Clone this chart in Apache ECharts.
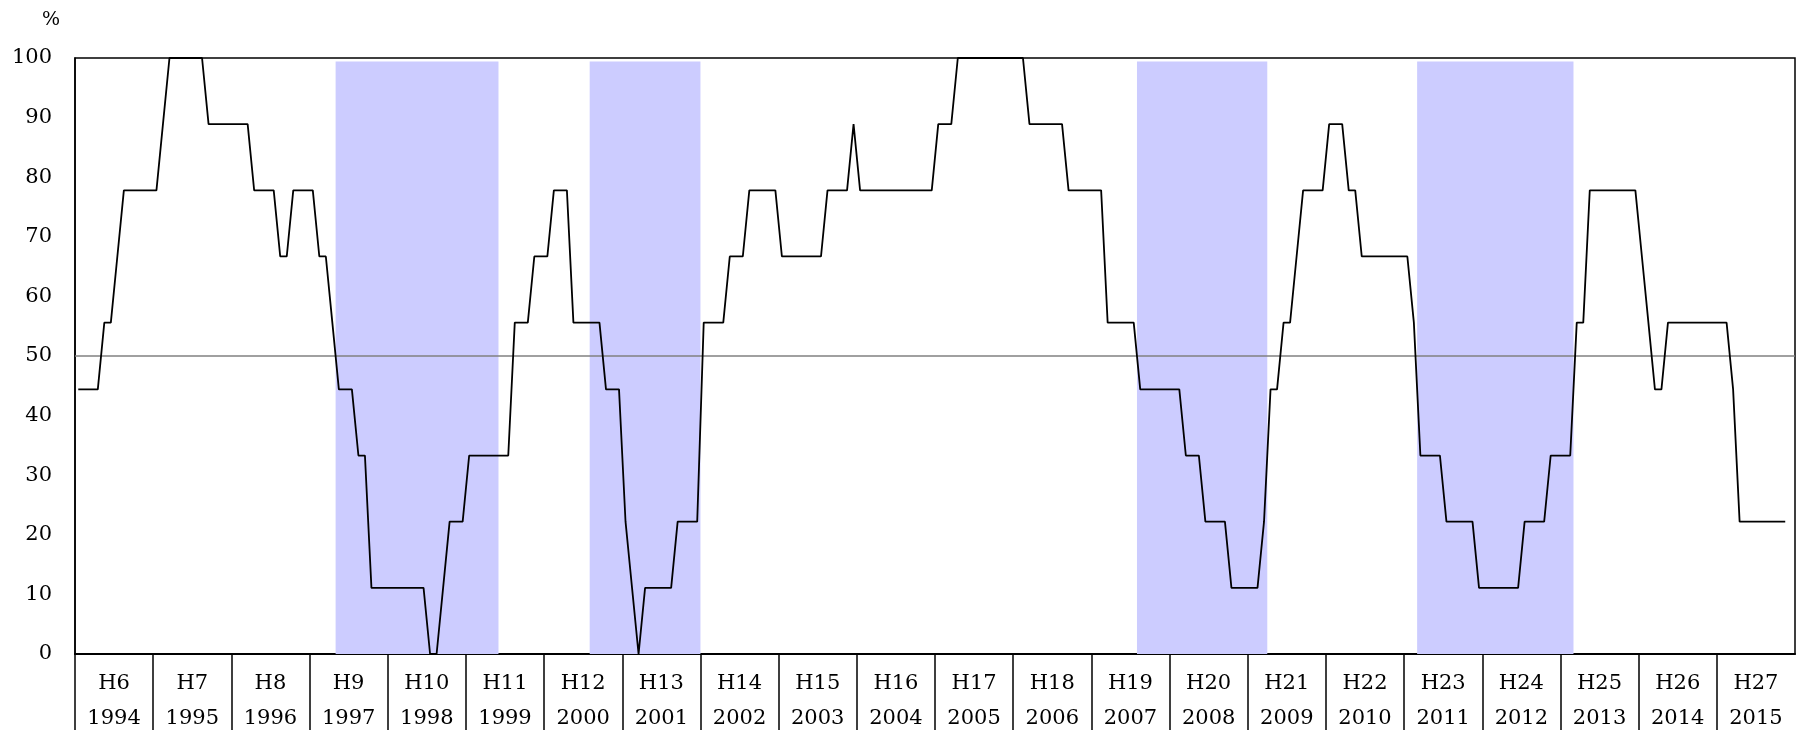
<!DOCTYPE html>
<html>
<head>
<meta charset="utf-8">
<script src="https://cdn.jsdelivr.net/npm/echarts@6/dist/echarts.min.js"></script>
<style>
html,body{margin:0;padding:0;background:#fff;}
#chart{width:1806px;height:730px;}
</style>
</head>
<body>
<div id="chart"></div>
<script>
// ---- data ----
const startYear = 1994;
const eraLabels  = ['H6','H7','H8','H9','H10','H11','H12','H13','H14','H15','H16','H17','H18','H19','H20','H21','H22','H23','H24','H25','H26','H27'];
const yearLabels = ['1994','1995','1996','1997','1998','1999','2000','2001','2002','2003','2004','2005','2006','2007','2008','2009','2010','2011','2012','2013','2014','2015'];

// monthly diffusion index (%), Jan 1994 onward
const diValues = [
  // 1994
  44.4,44.4,44.4,44.4,55.6,55.6,66.7,77.8,77.8,77.8,77.8,77.8,
  // 1995
  77.8,88.9,100,100,100,100,100,100,88.9,88.9,88.9,88.9,
  // 1996
  88.9,88.9,88.9,77.8,77.8,77.8,77.8,66.7,66.7,77.8,77.8,77.8,
  // 1997
  77.8,66.7,66.7,55.6,44.4,44.4,44.4,33.3,33.3,11.1,11.1,11.1,
  // 1998
  11.1,11.1,11.1,11.1,11.1,11.1,0,0,11.1,22.2,22.2,22.2,
  // 1999
  33.3,33.3,33.3,33.3,33.3,33.3,33.3,55.6,55.6,55.6,66.7,66.7,
  // 2000
  66.7,77.8,77.8,77.8,55.6,55.6,55.6,55.6,55.6,44.4,44.4,44.4,
  // 2001
  22.2,11.1,0,11.1,11.1,11.1,11.1,11.1,22.2,22.2,22.2,22.2,
  // 2002
  55.6,55.6,55.6,55.6,66.7,66.7,66.7,77.8,77.8,77.8,77.8,77.8,
  // 2003
  66.7,66.7,66.7,66.7,66.7,66.7,66.7,77.8,77.8,77.8,77.8,88.9,
  // 2004
  77.8,77.8,77.8,77.8,77.8,77.8,77.8,77.8,77.8,77.8,77.8,77.8,
  // 2005
  88.9,88.9,88.9,100,100,100,100,100,100,100,100,100,
  // 2006
  100,100,88.9,88.9,88.9,88.9,88.9,88.9,77.8,77.8,77.8,77.8,
  // 2007
  77.8,77.8,55.6,55.6,55.6,55.6,55.6,44.4,44.4,44.4,44.4,44.4,
  // 2008
  44.4,44.4,33.3,33.3,33.3,22.2,22.2,22.2,22.2,11.1,11.1,11.1,
  // 2009
  11.1,11.1,22.2,44.4,44.4,55.6,55.6,66.7,77.8,77.8,77.8,77.8,
  // 2010
  88.9,88.9,88.9,77.8,77.8,66.7,66.7,66.7,66.7,66.7,66.7,66.7,
  // 2011
  66.7,55.6,33.3,33.3,33.3,33.3,22.2,22.2,22.2,22.2,22.2,11.1,
  // 2012
  11.1,11.1,11.1,11.1,11.1,11.1,22.2,22.2,22.2,22.2,33.3,33.3,
  // 2013
  33.3,33.3,55.6,55.6,77.8,77.8,77.8,77.8,77.8,77.8,77.8,77.8,
  // 2014
  66.7,55.6,44.4,44.4,55.6,55.6,55.6,55.6,55.6,55.6,55.6,55.6,
  // 2015
  55.6,55.6,44.4,22.2,22.2,22.2,22.2,22.2,22.2,22.2,22.2
];

// shaded (recession) periods: first and last month
const recessionStart = ['1997-05','2000-08','2007-08','2011-03'];
const recessionEnd   = ['1999-05','2001-12','2009-03','2013-02'];
const bandTop = 99.4;
const referenceLevel = 50;

// ---- chart ----
const FONT = 'DejaVu Serif';
function monthIndex(s){ const p = s.split('-').map(Number); return (p[0]-startYear)*12 + (p[1]-1); }
const nMonths = eraLabels.length * 12;
const lineData = diValues.map((v, i) => [i + 0.5, v]);
const bands = recessionStart.map((s, k) => [
  { xAxis: monthIndex(s), yAxis: 0 },
  { xAxis: monthIndex(recessionEnd[k]) + 1, yAxis: bandTop }
]);

const chart = echarts.init(document.getElementById('chart'), null, { renderer: 'canvas' });
chart.setOption({
  animation: false,
  backgroundColor: '#ffffff',
  title: {
    text: '%', left: 37, top: 6,
    textStyle: { fontFamily: FONT, fontSize: 19, fontWeight: 'normal', color: '#000' }
  },
  grid: {
    left: 75, right: 11, top: 58, bottom: 76,
    outerBoundsMode: 'none', containLabel: false,
    show: true, borderColor: '#000', borderWidth: 1.5, backgroundColor: 'transparent'
  },
  xAxis: {
    type: 'value', min: 0, max: nMonths,
    axisLine: { show: true, onZero: false, lineStyle: { color: '#000', width: 2 } },
    axisTick: {
      show: true, inside: false, length: 80,
      customValues: eraLabels.map((_, k) => k * 12),
      lineStyle: { color: '#000', width: 1.5 }
    },
    axisLabel: {
      customValues: eraLabels.map((_, k) => k * 12 + 6),
      formatter: v => eraLabels[Math.floor(v / 12)] + '\n' + yearLabels[Math.floor(v / 12)],
      fontFamily: FONT, fontSize: 21, color: '#000', lineHeight: 35, margin: 12
    },
    splitLine: { show: false }
  },
  yAxis: {
    type: 'value', min: 0, max: 100, interval: 10,
    axisLine: { show: true, lineStyle: { color: '#000', width: 1.5 } },
    axisTick: { show: false },
    splitLine: { show: false },
    axisLabel: { fontFamily: FONT, fontSize: 21, color: '#000', margin: 23 }
  },
  series: [{
    type: 'line',
    data: lineData,
    symbol: 'none',
    lineStyle: { color: '#000', width: 1.8 },
    z: 3,
    markArea: {
      silent: true,
      itemStyle: { color: '#CCCCFF' },
      data: bands
    },
    markLine: {
      silent: true, symbol: 'none', z: 2,
      label: { show: false },
      lineStyle: { color: '#808080', width: 1.5, type: 'solid' },
      data: [{ yAxis: referenceLevel }]
    }
  }]
});
</script>
</body>
</html>
